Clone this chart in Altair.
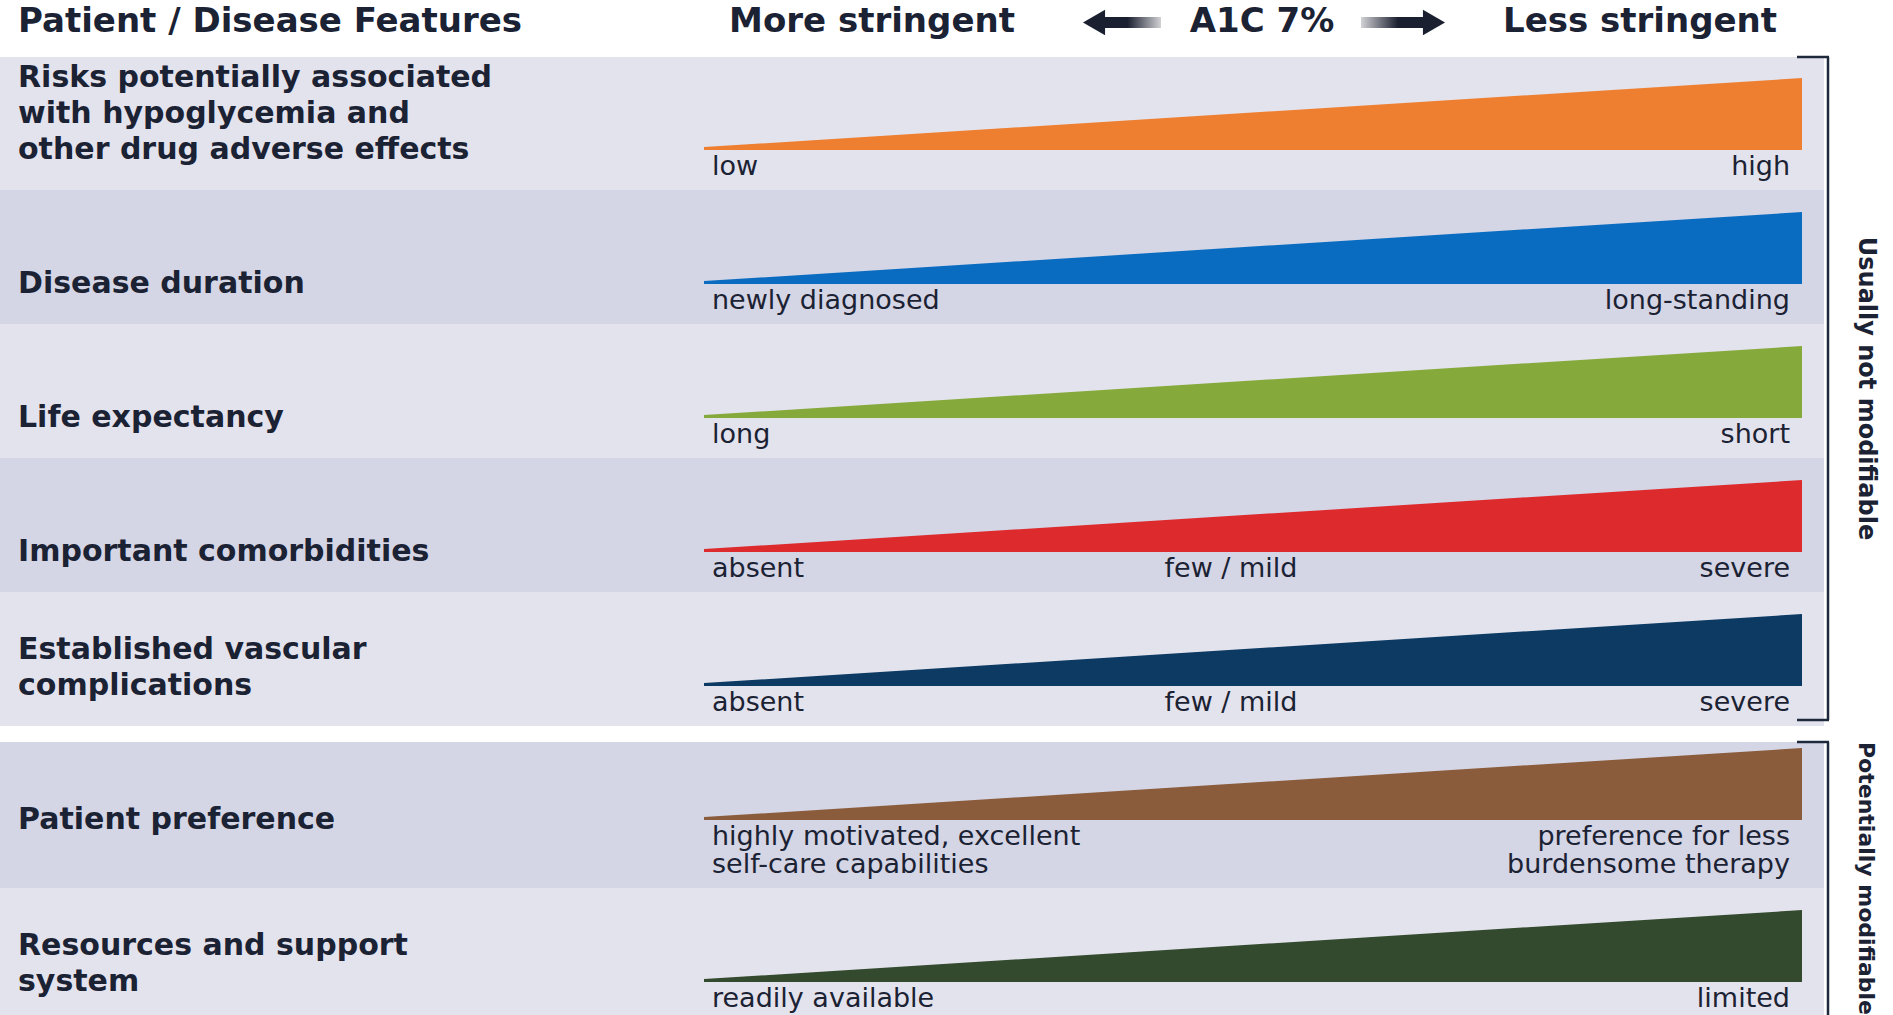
import altair as alt
import pandas as pd

# ---------------- data ----------------
features = [
    ["Risks potentially associated", "with hypoglycemia and", "other drug adverse effects"],
    ["Disease duration"],
    ["Life expectancy"],
    ["Important comorbidities"],
    ["Established vascular", "complications"],
    ["Patient preference"],
    ["Resources and support", "system"],
]
groups = [1, 1, 1, 1, 1, 2, 2]
group_names = ["Usually not modifiable", "Potentially modifiable"]
low_labels = [["low"], ["newly diagnosed"], ["long"], ["absent"], ["absent"],
              ["highly motivated, excellent", "self-care capabilities"], ["readily available"]]
mid_labels = [[], [], [], ["few / mild"], ["few / mild"], [], []]
high_labels = [["high"], ["long-standing"], ["short"], ["severe"], ["severe"],
               ["preference for less", "burdensome therapy"], ["limited"]]
wedge_start_level = [0.04, 0.04, 0.04, 0.04, 0.04, 0.04, 0.04]
wedge_end_level = [1.0, 1.0, 1.0, 1.0, 1.0, 1.0, 1.0]
mid_position = 0.48
header_left = "Patient / Disease Features"
header_more = "More stringent"
header_a1c = "A1C 7%"
header_less = "Less stringent"

# ---------------- style / layout ----------------
colors = ["#ef7f30", "#0a6cc0", "#86a93b", "#dd2a2d", "#0c3a63", "#8a5c3b", "#344a2e"]
BAND_LIGHT = "#e3e3ed"
BAND_DARK = "#d4d5e5"
TXT = "#1b2233"
FONT = "DejaVu Sans"
W, H = 1893, 1015
X_LOW, X_HIGH = 704, 1802
Y_B0, PITCH, WEDGE_H, SUB_LH, FEAT_LH = 150, 134, 72, 28, 36
FEAT_FS = 30
GROUP_GAP = 16
BAND_RIGHT = 1824
BR_X = 1828

span = X_HIGH - X_LOW
xscale = alt.Scale(domain=[-X_LOW / span, (W - X_LOW) / span], nice=False, zero=False)
yscale = alt.Scale(domain=[0, H], reverse=True, nice=False, zero=False)

keys = [" ".join(f) for f in features]

# row bottoms
y_b = []
for i in range(len(features)):
    if i == 0:
        y_b.append(Y_B0)
    else:
        extra = (max(len(low_labels[i - 1]), len(high_labels[i - 1])) - 1) * SUB_LH
        y_b.append(y_b[-1] + PITCH + extra)

# bands
band_rows = []
group_spans = {}
prev_bottom = None
for i in range(len(features)):
    nlines = max(len(low_labels[i]), len(high_labels[i]))
    if i == 0:
        top = Y_B0 - 93
    elif groups[i] != groups[i - 1]:
        top = prev_bottom + GROUP_GAP
    else:
        top = prev_bottom
    bottom = y_b[i] + 40 + (nlines - 1) * SUB_LH
    band_rows.append({"y0": top, "y1": bottom, "shade": "light" if i % 2 == 0 else "dark"})
    g = groups[i]
    if g not in group_spans:
        group_spans[g] = [top, bottom]
    group_spans[g][1] = bottom
    prev_bottom = bottom
band_df = pd.DataFrame(band_rows)

# wedges
wrows = []
for i, k in enumerate(keys):
    for t, lvl in [(0.0, wedge_start_level[i]), (1.0, wedge_end_level[i])]:
        wrows.append({"feature": k, "t": t, "top": y_b[i] - lvl * WEDGE_H, "bottom": y_b[i]})
wedge_df = pd.DataFrame(wrows)

# feature labels
frows = []
for i, lines in enumerate(features):
    n = len(lines)
    for j, s in enumerate(lines):
        frows.append({"text": s, "y": y_b[i] - (n - 1 - j) * FEAT_LH})
feat_df = pd.DataFrame(frows)


def sub_df(labels, t):
    rows = []
    for i, lines in enumerate(labels):
        for j, s in enumerate(lines):
            rows.append({"text": s, "t": t, "y": y_b[i] + 17 + j * SUB_LH})
    return pd.DataFrame(rows)


low_df = sub_df(low_labels, 0.0)
mid_df = sub_df(mid_labels, mid_position)
high_df = sub_df(high_labels, 1.0)

grp_df = pd.DataFrame([
    {"name": group_names[g - 1], "y0": group_spans[g][0], "y1": group_spans[g][1] - 6,
     "ymid": (group_spans[g][0] + group_spans[g][1] - 6) / 2}
    for g in sorted(group_spans)
])

one = pd.DataFrame({"a": [0]})

# ---------------- layers ----------------
bands_light = alt.Chart(band_df).transform_filter(alt.datum.shade == "light").mark_rect(color=BAND_LIGHT).encode(
    x=alt.value(0), x2=alt.value(BAND_RIGHT),
    y=alt.Y("y0:Q", scale=yscale, axis=None), y2="y1:Q")
bands_dark = alt.Chart(band_df).transform_filter(alt.datum.shade == "dark").mark_rect(color=BAND_DARK).encode(
    x=alt.value(0), x2=alt.value(BAND_RIGHT),
    y=alt.Y("y0:Q", scale=yscale, axis=None), y2="y1:Q")

wedges = alt.Chart(wedge_df).mark_area(opacity=1).encode(
    x=alt.X("t:Q", scale=xscale, axis=None),
    y=alt.Y("top:Q", scale=yscale, axis=None),
    y2="bottom:Q",
    color=alt.Color("feature:N", scale=alt.Scale(domain=keys, range=colors), legend=None),
    detail="feature:N",
)

feat_text = alt.Chart(feat_df).mark_text(
    align="left", baseline="middle", font=FONT, fontSize=FEAT_FS, fontWeight="bold", color=TXT
).encode(x=alt.value(18), y=alt.Y("y:Q", scale=yscale, axis=None), text="text:N")

sub_kw = dict(baseline="middle", font=FONT, fontSize=27, color=TXT)
low_text = alt.Chart(low_df).mark_text(align="left", dx=8, **sub_kw).encode(
    x=alt.X("t:Q", scale=xscale, axis=None), y=alt.Y("y:Q", scale=yscale, axis=None), text="text:N")
mid_text = alt.Chart(mid_df).mark_text(align="center", **sub_kw).encode(
    x=alt.X("t:Q", scale=xscale, axis=None), y=alt.Y("y:Q", scale=yscale, axis=None), text="text:N")
high_text = alt.Chart(high_df).mark_text(align="right", dx=-12, **sub_kw).encode(
    x=alt.X("t:Q", scale=xscale, axis=None), y=alt.Y("y:Q", scale=yscale, axis=None), text="text:N")

hdr_kw = dict(baseline="middle", font=FONT, fontSize=34, fontWeight="bold", color=TXT)
hdr1 = alt.Chart(one).mark_text(align="left", text=header_left, **hdr_kw).encode(x=alt.value(18), y=alt.value(22))
hdr2 = alt.Chart(one).mark_text(align="center", text=header_more, **hdr_kw).encode(x=alt.value(872), y=alt.value(22))
hdr3 = alt.Chart(one).mark_text(align="center", text=header_a1c, **hdr_kw).encode(x=alt.value(1262), y=alt.value(22))
hdr4 = alt.Chart(one).mark_text(align="center", text=header_less, **hdr_kw).encode(x=alt.value(1640), y=alt.value(22))

DARK_ARROW = "#1b2030"
grad_l = alt.Gradient(gradient="linear", x1=0, x2=1, y1=0, y2=0,
                      stops=[alt.GradientStop(color=DARK_ARROW, offset=0),
                             alt.GradientStop(color=DARK_ARROW, offset=0.45),
                             alt.GradientStop(color="#d2d2d6", offset=1)])
grad_r = alt.Gradient(gradient="linear", x1=0, x2=1, y1=0, y2=0,
                      stops=[alt.GradientStop(color="#d2d2d6", offset=0),
                             alt.GradientStop(color=DARK_ARROW, offset=0.55),
                             alt.GradientStop(color=DARK_ARROW, offset=1)])
shaft_l = alt.Chart(one).mark_rect(color=grad_l).encode(
    x=alt.value(1100), x2=alt.value(1161), y=alt.value(17), y2=alt.value(28))
shaft_r = alt.Chart(one).mark_rect(color=grad_r).encode(
    x=alt.value(1361), x2=alt.value(1428), y=alt.value(17), y2=alt.value(28))
head_l = alt.Chart(one).mark_point(shape="triangle-left", filled=True, size=650, opacity=1, color=DARK_ARROW).encode(
    x=alt.value(1094), y=alt.value(22.5))
head_r = alt.Chart(one).mark_point(shape="triangle-right", filled=True, size=650, opacity=1, color=DARK_ARROW).encode(
    x=alt.value(1434), y=alt.value(22.5))

BR_COLOR = "#1e2a3c"
br_line = alt.Chart(grp_df).mark_rule(color=BR_COLOR, strokeWidth=2.5).encode(
    x=alt.value(BR_X), y=alt.Y("y0:Q", scale=yscale, axis=None), y2="y1:Q")
br_top = alt.Chart(grp_df).mark_rule(color=BR_COLOR, strokeWidth=2.5).encode(
    x=alt.value(1797), x2=alt.value(BR_X + 1), y=alt.Y("y0:Q", scale=yscale, axis=None))
br_bot = alt.Chart(grp_df).transform_filter(alt.datum.y1 < H - 20).mark_rule(color=BR_COLOR, strokeWidth=2.5).encode(
    x=alt.value(1797), x2=alt.value(BR_X + 1), y=alt.Y("y1:Q", scale=yscale, axis=None))
grp_text1 = alt.Chart(grp_df).transform_filter(alt.datum.name == group_names[0]).mark_text(
    angle=90, align="center", baseline="middle", font=FONT, fontSize=24, fontWeight="bold", color=TXT
).encode(x=alt.value(1866), y=alt.Y("ymid:Q", scale=yscale, axis=None), text="name:N")
grp_text2 = alt.Chart(grp_df).transform_filter(alt.datum.name == group_names[1]).mark_text(
    angle=90, align="left", baseline="middle", font=FONT, fontSize=22, fontWeight="bold", color=TXT
).encode(x=alt.value(1866), y=alt.Y("y0:Q", scale=yscale, axis=None), text="name:N")

chart = alt.layer(
    bands_light, bands_dark, wedges, feat_text, low_text, mid_text, high_text,
    hdr1, hdr2, hdr3, hdr4, shaft_l, shaft_r, head_l, head_r,
    br_line, br_top, br_bot, grp_text1, grp_text2,
).properties(
    width=W, height=H, padding=0,
    autosize=alt.AutoSizeParams(type="none"),
    background="white",
).configure_view(strokeWidth=0)

chart.save("out.html", embed_options={"renderer": "svg", "actions": False})
